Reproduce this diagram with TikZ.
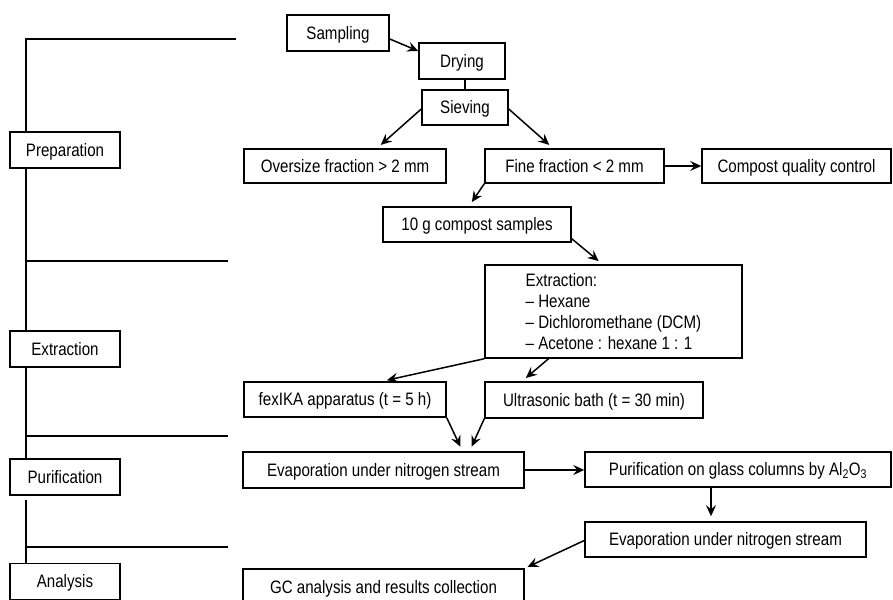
\documentclass[tikz,border=0pt]{standalone}
\usepackage{fontspec}
\setmainfont[FakeStretch=0.84]{Liberation Sans}
\usetikzlibrary{arrows.meta}

\begin{document}
\begin{tikzpicture}[x=1pt, y=-1pt,
    frame/.style={draw, fill=white, line width=1.5pt, minimum height=35pt, inner sep=0pt, font=\fontsize{18}{20.8}\selectfont},
    box/.style={frame, text height=12.9pt, text depth=0pt},
    flow/.style={line width=1.5pt, -{Stealth[length=11pt, width=10pt, inset=4pt]}},
    stem/.style={line width=1.5pt}]
    \useasboundingbox (0,0) rectangle (893,599);
    \clip (0,0) rectangle (893,599);

    % Stage labels
    \node[box, minimum width=110pt, minimum height=36pt] (prep) at (65,150) {Preparation};
    \node[box, minimum width=110pt, minimum height=36pt] (extlab) at (65,349) {Extraction};
    \node[box, minimum width=110pt, minimum height=36pt] (purlab) at (65,477) {Purification};
    \node[box, minimum width=110pt, minimum height=36pt] (anlab) at (65,581.5) {Analysis};

    % Draw nodes
    \node[box, minimum width=102pt, minimum height=36pt] (samp) at (338,33) {Sampling};
    \node[box, minimum width=86pt, minimum height=36pt] (dry) at (462,61) {Drying};
    \node[box, minimum width=86pt] (sieve) at (465,107.5) {Sieving};
    \node[box, minimum width=202pt, minimum height=34pt] (over) at (345,166) {Oversize fraction > 2 mm};
    \node[box, minimum width=179pt, minimum height=34pt] (fine) at (574.5,166) {Fine fraction < 2 mm};
    \node[box, minimum width=189pt, minimum height=34pt] (qc) at (796.5,166) {Compost quality control};
    \node[box, minimum width=188pt] (ten) at (477,224.5) {10 g compost samples};
    \node[frame, minimum width=257pt, minimum height=93pt, align=left] (extr) at (613.5,311.5)
        {Extraction:\\-- Hexane\\-- Dichloromethane (DCM)\\-- Acetone : hexane 1 : 1};
    \node[box, minimum width=202pt] (fex) at (345,399.5) {fexIKA apparatus (t = 5 h)};
    \node[box, minimum width=218pt, minimum height=36pt] (ultra) at (594,400) {Ultrasonic bath (t = 30 min)};
    \node[box, minimum width=281pt, minimum height=36pt] (evapA) at (383.5,470) {Evaporation under nitrogen stream};
    \node[box, minimum width=306pt] (purif) at (738,469.5) {Purification on glass columns by Al\textsubscript{2}O\textsubscript{3}};
    \node[box, minimum width=281pt] (evapB) at (725.5,539.5) {Evaporation under nitrogen stream};
    \node[box, minimum width=281pt, minimum height=36pt] (gc) at (383.5,587) {GC analysis and results collection};

    % Stage lines
    \coordinate (top) at (26,39);
    \coordinate (cut1) at (236,39);
    \coordinate (cut2) at (228,261);
    \coordinate (cut3) at (228,436);
    \coordinate (cut4) at (228,547);
    \draw[stem] (cut1) -- (top) -- (top |- prep.north);
    \draw[stem] (top |- prep.south) -- (top |- extlab.north);
    \draw[stem] (top |- extlab.south) -- (top |- purlab.north);
    \draw[stem, shorten <=4pt] (top |- purlab.south) -- (top |- anlab.north);
    \draw[stem] (top |- cut2) -- (cut2);
    \draw[stem] (top |- cut3) -- (cut3);
    \draw[stem] (top |- cut4) -- (cut4);

    % Draw connections
    \draw[flow] ([yshift=-6pt]samp.east) -- ([yshift=10pt]dry.west);
    \draw[stem] (sieve.north) -- (sieve.north |- dry.south);
    \draw[flow, shorten >=5pt] ([yshift=-1.5pt]sieve.west) -- ([xshift=32pt]over.north);
    \draw[flow, shorten >=5pt] ([yshift=-1.5pt]sieve.east) -- ([xshift=-21.5pt]fine.north);
    \draw[flow] (fine) -- (qc);
    \draw[flow, shorten >=5pt] (fine.south west) -- ([xshift=-8pt]ten.north);
    \draw[flow, shorten >=5pt] ([yshift=4pt]ten.south east) -- ([xshift=-11pt]extr.north);
    \draw[flow, shorten >=5pt] (extr.south west) -- ([xshift=37pt]fex.north);
    \draw[flow, shorten >=5pt] ([xshift=-65pt]extr.south) -- ([xshift=-72pt]ultra.north);
    \draw[flow, shorten >=5pt] (fex.south east) -- ([xshift=79pt]evapA.north);
    \draw[flow, shorten >=5pt] (ultra.south west) -- ([xshift=86pt]evapA.north);
    \draw[flow] (evapA.east) -- (evapA.east -| purif.west);
    \coordinate (drop) at ([xshift=-14.5pt]evapB.north);
    \draw[flow, shorten >=5pt] (drop |- purif.south) -- (drop);
    \draw[flow, shorten >=3pt] ([yshift=-1pt]evapB.west) -- (gc.north east);
\end{tikzpicture}
\end{document}
